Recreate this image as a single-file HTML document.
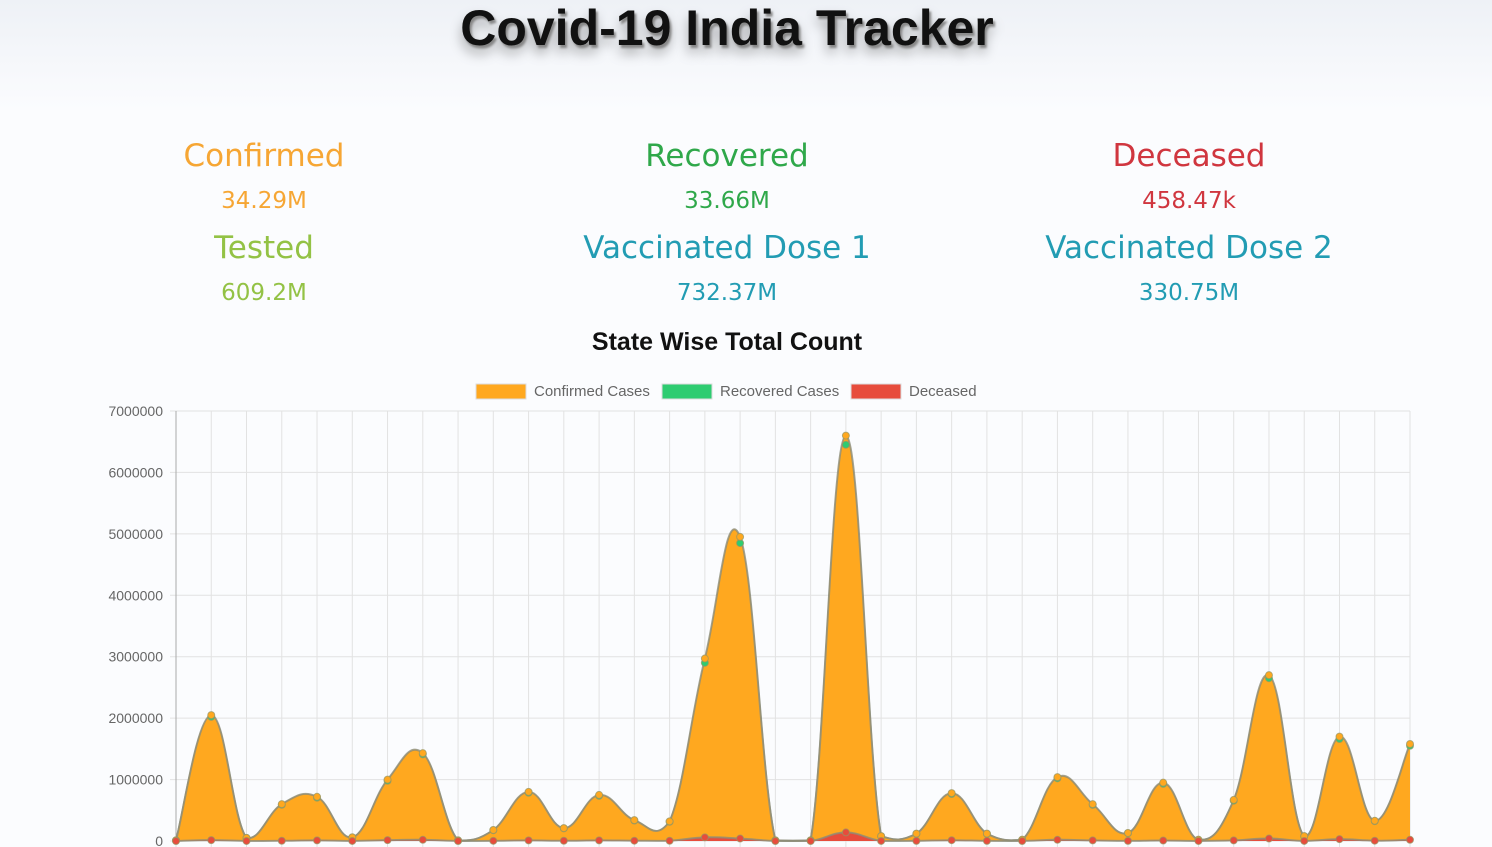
<!DOCTYPE html>
<html><head><meta charset="utf-8">
<style>
body{margin:0;width:1492px;height:847px;overflow:hidden;font-family:"Liberation Sans",sans-serif;background:#fbfcfe;}
.top{position:absolute;left:0;top:0;width:1492px;height:110px;background:linear-gradient(#eef1f6,#fbfcfe);}
h1{position:absolute;left:0;width:1454px;top:0;margin:0;text-align:center;font-size:50px;font-weight:bold;line-height:56px;color:#111;text-shadow:2px 3px 2px #888,0 8px 12px rgba(0,0,0,0.35);}
.stat{position:absolute;width:500px;text-align:center;font-family:"DejaVu Sans",sans-serif;}
.lbl{font-size:31px;line-height:38px;}
.val{font-size:23px;}
.ct{position:absolute;left:0;width:1454px;top:328px;text-align:center;font-size:25px;font-weight:bold;color:#111;}
svg{position:absolute;left:0;top:0;}
</style></head><body>
<div class="top"></div>
<h1>Covid-19 India Tracker</h1>
<div class="stat lbl" style="left:14px;top:137px;color:#f6a634">Confirmed</div>
<div class="stat val" style="left:14px;top:188px;color:#f6a634">34.29M</div>
<div class="stat lbl" style="left:477px;top:137px;color:#2fa84a">Recovered</div>
<div class="stat val" style="left:477px;top:188px;color:#2fa84a">33.66M</div>
<div class="stat lbl" style="left:939px;top:137px;color:#d0363f">Deceased</div>
<div class="stat val" style="left:939px;top:188px;color:#d0363f">458.47k</div>
<div class="stat lbl" style="left:14px;top:229px;color:#93c245">Tested</div>
<div class="stat val" style="left:14px;top:280px;color:#93c245">609.2M</div>
<div class="stat lbl" style="left:477px;top:229px;color:#229cb3">Vaccinated Dose 1</div>
<div class="stat val" style="left:477px;top:280px;color:#229cb3">732.37M</div>
<div class="stat lbl" style="left:939px;top:229px;color:#229cb3">Vaccinated Dose 2</div>
<div class="stat val" style="left:939px;top:280px;color:#229cb3">330.75M</div>
<div class="ct">State Wise Total Count</div>
<svg id="c" width="1492" height="847"></svg>
<script>
const yTicks=[0,1000000,2000000,3000000,4000000,5000000,6000000,7000000];
const confirmed=[10000,2050000,50000,600000,720000,60000,1000000,1430000,10000,180000,800000,210000,750000,340000,320000,2970000,4950000,10000,10000,6600000,80000,120000,780000,120000,20000,1040000,600000,130000,950000,20000,670000,2700000,80000,1700000,330000,1580000];
const recovered=[9800,2020000,49000,590000,705000,58000,980000,1410000,9800,176000,785000,206000,735000,333000,313000,2900000,4850000,9800,9800,6450000,78000,117000,765000,117000,19600,1020000,588000,127000,930000,19600,656000,2650000,78000,1660000,323000,1550000];
const deceased=[100,14000,500,4000,10000,1000,14000,20000,100,3000,10000,4000,10000,5000,4000,60000,40000,100,100,140000,1000,2000,13000,2000,200,20000,10000,2000,8000,300,10000,40000,1000,30000,5000,20000];
const legendNames=["Confirmed Cases","Recovered Cases","Deceased"];
const NS="http://www.w3.org/2000/svg",svg=document.getElementById('c');
const x0=176,x1=1410,y0=841,y1=411,ymax=7000000;
const X=i=>x0+i*(x1-x0)/(confirmed.length-1), Y=v=>y0-v/ymax*(y0-y1);
function mk(t,a,p){const e=document.createElementNS(NS,t);for(const k in a)e.setAttribute(k,a[k]);(p||svg).appendChild(e);return e;}
for(let i=0;i<confirmed.length;i++){const g=mk('line',{x1:X(i),x2:X(i),y1:y1,y2:y0+6,stroke:'#e2e2e2'});

}
yTicks.forEach(v=>{const g=mk('line',{x1:x0-6,x2:x1,y1:Y(v),y2:Y(v),stroke:'#e2e2e2'});


const t=mk('text',{x:163,y:Y(v)+5,'text-anchor':'end','font-size':'14',fill:'#666','font-family':'Liberation Sans'});t.textContent=v;

});
mk('line',{x1:x0,x2:x0,y1:y1,y2:y0,stroke:'#aaa'});
function path(d){const p=d.map((v,i)=>[X(i),Y(v)]);let s=`M${p[0][0]},${p[0][1]}`;const t=0.4;
for(let i=0;i<p.length-1;i++){const a=p[Math.max(i-1,0)],b=p[i],c=p[i+1],e=p[Math.min(i+2,p.length-1)];
const c1=[b[0]+(c[0]-a[0])*t/2,b[1]+(c[1]-a[1])*t/2],c2=[c[0]-(e[0]-b[0])*t/2,c[1]-(e[1]-b[1])*t/2];
s+=` C${c1[0]},${Math.min(c1[1],y0)} ${c2[0]},${Math.min(c2[1],y0)} ${c[0]},${c[1]}`;}return s;}
const series=[[recovered,'#2ecc71','recovered'],[confirmed,'#ffa81f','confirmed'],[deceased,'#e74c3c','deceased']];
series.forEach(([d,c,n])=>{const s=path(d);const a=mk('path',{d:s+` L${x1},${y0} L${x0},${y0} Z`,fill:c,stroke:'none'});


const l=mk('path',{d:s,fill:'none',stroke:'rgba(140,140,120,0.8)','stroke-width':2});

});
series.forEach(([d,c,n])=>d.forEach((v,i)=>{const p=mk('circle',{cx:X(i),cy:Y(v),r:3.5,fill:c,stroke:'rgba(150,150,100,0.7)'});

}));
const lx=[476,662,851],cols=['#ffa81f','#2ecc71','#e74c3c'];
legendNames.forEach((n,i)=>{const g=mk('g',{});


mk('rect',{x:lx[i],y:384,width:50,height:15,fill:cols[i],stroke:'#ddd'},g);
const t=mk('text',{x:lx[i]+58,y:396,'font-size':'15',fill:'#666','font-family':'Liberation Sans'},g);t.textContent=n;});
</script>
</body></html>
